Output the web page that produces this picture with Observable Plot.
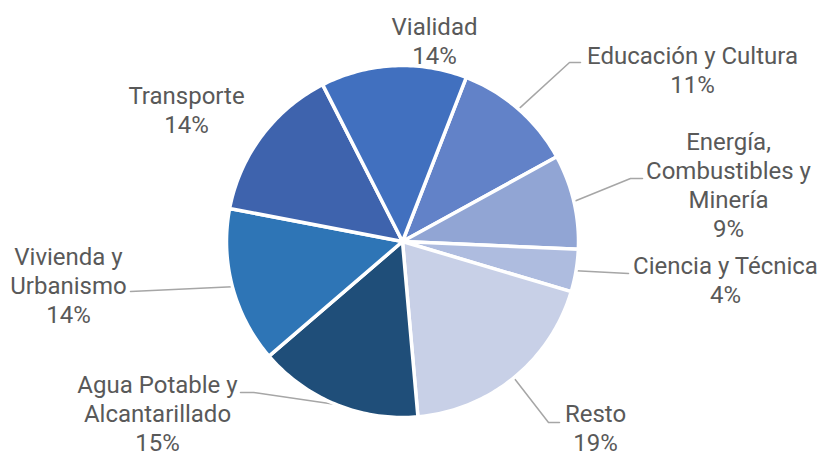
<!DOCTYPE html>
<html>
<head>
<meta charset="utf-8">
<script src="https://cdn.jsdelivr.net/npm/d3@7"></script>
<script src="https://cdn.jsdelivr.net/npm/@observablehq/plot@0.6"></script>
<style>
  html, body { margin: 0; padding: 0; background: #ffffff; }
  #chart svg { display: block; }
</style>
</head>
<body>
<div id="chart"></div>
<script>
// ---- data ----
const categories = [
  "Educación y Cultura",
  "Energía, Combustibles y Minería",
  "Ciencia y Técnica",
  "Resto",
  "Agua Potable y Alcantarillado",
  "Vivienda y Urbanismo",
  "Transporte",
  "Vialidad"
];
const values = [11.1, 8.7, 3.9, 19.0, 15.1, 14.3, 14.5, 13.4];
const pctLabels = ["11%", "9%", "4%", "19%", "15%", "14%", "14%", "14%"];
const labelLines = [
  "Educación y Cultura",
  "Energía,\nCombustibles y\nMinería",
  "Ciencia y Técnica",
  "Resto",
  "Agua Potable y\nAlcantarillado",
  "Vivienda y\nUrbanismo",
  "Transporte",
  "Vialidad"
];

// ---- styles / layout ----
const colors = ["#6282c8", "#91a5d4", "#aebcdf", "#c8d0e7", "#1f4e79", "#2e75b6", "#3e63ad", "#4170bf"];
const W = 820, H = 457;
const cx = 402, cy = 241, R = 176;
const startDeg = 21.25;
// label block centres and leader elbow / end points (layout only)
const labelPos = [
  {x: 692, y: 68.5, elbow: [569, 62], end: [580, 62]},
  {x: 728, y: 183.5, elbow: [630, 178], end: [642, 178]},
  {x: 725, y: 279, elbow: [628, 273], end: [628, 273]},
  {x: 595, y: 427, elbow: [548, 422], end: [559, 422]},
  {x: 157, y: 412, elbow: [253, 392], end: [240, 392]},
  {x: 68, y: 284, elbow: [130, 291], end: [130, 291]},
  {x: 186, y: 109, elbow: null, end: null},
  {x: 434, y: 39.5, elbow: null, end: null}
];

// ---- build slices through d3.pie ----
const rad = Math.PI / 180;
const pie = d3.pie().sort(null).value(d => d.value)
  .startAngle(startDeg * rad).endAngle(startDeg * rad + 2 * Math.PI);
const rows = categories.map((c, i) => ({name: c, value: values[i], i}));
const arcs = pie(rows);

const px = a => cx + R * Math.sin(a);
const py = a => cy - R * Math.cos(a);

const slicePts = [];
for (const a of arcs) {
  slicePts.push({name: a.data.name, x: cx, y: cy});
  const n = Math.max(2, Math.ceil((a.endAngle - a.startAngle) / rad));
  for (let k = 0; k <= n; k++) {
    const t = a.startAngle + (a.endAngle - a.startAngle) * k / n;
    slicePts.push({name: a.data.name, x: px(t), y: py(t)});
  }
}

const leaderPts = [];
const labels = [];
arcs.forEach((a, i) => {
  const L = labelPos[i];
  labels.push({name: a.data.name, x: L.x, y: L.y, text: labelLines[i] + "\n" + pctLabels[i]});
  if (L.elbow) {
    const m = (a.startAngle + a.endAngle) / 2;
    leaderPts.push({name: a.data.name, x: px(m), y: py(m)});
    leaderPts.push({name: a.data.name, x: L.elbow[0], y: L.elbow[1]});
    leaderPts.push({name: a.data.name, x: L.end[0], y: L.end[1]});
  }
});

const chart = Plot.plot({
  width: W,
  height: H,
  margin: 0,
  style: {fontFamily: "Roboto, 'Noto Sans', sans-serif", background: "#ffffff"},
  x: {domain: [0, W], range: [0, W], axis: null},
  y: {domain: [0, H], range: [0, H], axis: null},
  color: {domain: categories, range: colors},
  marks: [
    Plot.line(leaderPts, {x: "x", y: "y", z: "name", stroke: "#a6a6a6", strokeWidth: 1.5, curve: "linear"}),
    Plot.line(slicePts, {x: "x", y: "y", z: "name", fill: "name", stroke: "#ffffff", strokeWidth: 3.5, strokeLinejoin: "round", curve: "linear-closed"}),
    Plot.text(labels, {x: "x", y: "y", text: "text", fill: "#595959", fontSize: 24, lineHeight: 1.21, textAnchor: "middle"})
  ]
});
document.getElementById("chart").appendChild(chart);
</script>
</body>
</html>
